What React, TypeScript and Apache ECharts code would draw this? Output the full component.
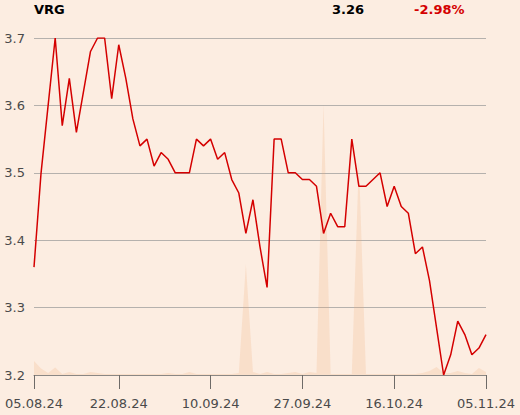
import React, { useEffect, useRef } from "react";
import * as echarts from "echarts";

const ticker = "VRG";

const dates = [
  "05.08.24", "06.08.24", "07.08.24", "08.08.24", "09.08.24",
  "12.08.24", "13.08.24", "14.08.24", "15.08.24",
  "19.08.24", "20.08.24", "21.08.24", "22.08.24", "23.08.24",
  "26.08.24", "27.08.24", "28.08.24", "29.08.24", "30.08.24",
  "02.09.24", "03.09.24", "04.09.24", "05.09.24", "06.09.24",
  "09.09.24", "10.09.24", "11.09.24", "12.09.24", "13.09.24",
  "16.09.24", "17.09.24", "18.09.24", "19.09.24", "20.09.24",
  "23.09.24", "24.09.24", "25.09.24", "26.09.24", "27.09.24",
  "30.09.24", "01.10.24", "02.10.24", "03.10.24", "04.10.24",
  "07.10.24", "08.10.24", "09.10.24", "10.10.24", "11.10.24",
  "14.10.24", "15.10.24", "16.10.24", "17.10.24", "18.10.24",
  "21.10.24", "22.10.24", "23.10.24", "24.10.24",
  "28.10.24", "29.10.24", "30.10.24", "31.10.24", "01.11.24",
  "04.11.24", "05.11.24",
];

const tickLabels = ["05.08.24", "22.08.24", "10.09.24", "27.09.24", "16.10.24", "05.11.24"];

const prices = [
  3.36, 3.5, 3.6, 3.7, 3.57, 3.64, 3.56, 3.62, 3.68, 3.7,
  3.7, 3.61, 3.69, 3.64, 3.58, 3.54, 3.55, 3.51, 3.53, 3.52,
  3.5, 3.5, 3.5, 3.55, 3.54, 3.55, 3.52, 3.53, 3.49, 3.47,
  3.41, 3.46, 3.39, 3.33, 3.55, 3.55, 3.5, 3.5, 3.49, 3.49,
  3.48, 3.41, 3.44, 3.42, 3.42, 3.55, 3.48, 3.48, 3.49, 3.5,
  3.45, 3.48, 3.45, 3.44, 3.38, 3.39, 3.34, 3.27, 3.2, 3.23,
  3.28, 3.26, 3.23, 3.24, 3.26,
];

const volumes = [
  140000, 65000, 20000, 75000, 10000, 30000, 10000, 10000, 30000, 20000,
  10000, 10000, 10000, 10000, 10000, 10000, 10000, 10000, 10000, 20000,
  10000, 10000, 30000, 10000, 10000, 10000, 10000, 10000, 10000, 20000,
  1110000, 30000, 10000, 30000, 10000, 10000, 20000, 30000, 10000, 30000,
  20000, 2710000, 10000, 10000, 10000, 10000, 2140000, 10000, 10000, 10000,
  10000, 10000, 10000, 10000, 10000, 20000, 40000, 80000, 20000, 20000,
  40000, 20000, 10000, 70000, 30000,
];

const yTicks = { min: 3.2, max: 3.7, step: 0.1 };

export default function App() {
  const ref = useRef<HTMLDivElement>(null);

  useEffect(() => {
    document.body.style.margin = "0";
    if (!ref.current) return;
    const chart = echarts.init(ref.current, undefined, { renderer: "svg" });
    const last = prices[prices.length - 1];
    const first = prices[0];
    const change = ((last - first) / first) * 100;
    const font = "DejaVu Sans";
    const showTick = (_i: number, v: string) => tickLabels.includes(v);

    chart.setOption({
      animation: false,
      backgroundColor: "#fcede1",
      textStyle: { fontFamily: font },
      grid: { left: 34, right: 34, top: 38, bottom: 40 },
      graphic: [
        {
          type: "text",
          left: 34,
          top: 3,
          style: { text: ticker, fontFamily: font, fontWeight: "bold", fontSize: 13, fill: "#000" },
        },
        {
          type: "text",
          left: 332,
          top: 3,
          style: { text: last.toFixed(2), fontFamily: font, fontWeight: "bold", fontSize: 13, fill: "#000" },
        },
        {
          type: "text",
          left: 414,
          top: 3,
          style: {
            text: (change >= 0 ? "+" : "") + change.toFixed(2) + "%",
            fontFamily: font,
            fontWeight: "bold",
            fontSize: 13,
            fill: "#d40000",
          },
        },
      ],
      xAxis: {
        type: "category",
        data: dates,
        boundaryGap: false,
        axisLine: { show: true, lineStyle: { color: "#8a8784", width: 1 } },
        axisTick: { show: true, length: 14, interval: showTick, lineStyle: { color: "#6e6b68" } },
        axisLabel: {
          interval: showTick,
          fontFamily: font,
          fontSize: 13,
          color: "#4a4a4a",
          margin: 22,
        },
        splitLine: { show: false },
      },
      yAxis: [
        {
          type: "value",
          min: yTicks.min,
          max: yTicks.max,
          interval: yTicks.step,
          axisLine: { show: false },
          axisTick: { show: false },
          axisLabel: {
            fontFamily: font,
            fontSize: 13,
            color: "#4a4a4a",
            margin: 9,
            formatter: (v: number) => v.toFixed(1),
          },
          splitLine: { lineStyle: { color: "#b5b1ad", width: 1 } },
        },
        {
          type: "value",
          min: 0,
          max: (v: { max: number }) => v.max * 1.245,
          show: false,
          splitLine: { show: false },
        },
      ],
      series: [
        {
          type: "line",
          yAxisIndex: 1,
          data: volumes,
          symbol: "none",
          lineStyle: { width: 0 },
          areaStyle: { color: "rgba(240,170,120,0.3)" },
          z: 1,
        },
        {
          type: "line",
          yAxisIndex: 0,
          data: prices,
          symbol: "none",
          lineStyle: { color: "#d40000", width: 1.5 },
          z: 3,
        },
      ],
    });
    return () => chart.dispose();
  }, []);

  return <div ref={ref} style={{ width: 520, height: 415 }} />;
}
